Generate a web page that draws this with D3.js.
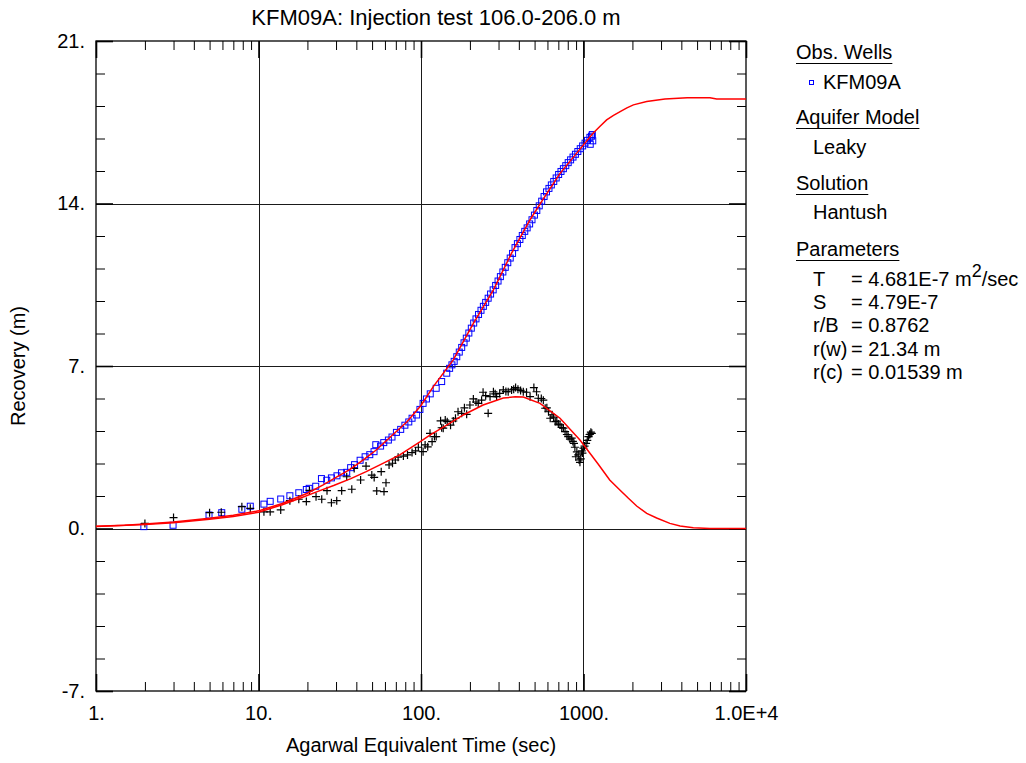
<!DOCTYPE html>
<html>
<head>
<meta charset="utf-8">
<script src="https://cdn.jsdelivr.net/npm/d3@7"></script>
<style>
  body { margin: 0; background: #fff; }
  svg { display: block; font-family: "Liberation Sans", Arial, sans-serif; }
</style>
</head>
<body>
<svg id="chart" width="1026" height="763"></svg>
<script>
// Axis ticks
var timeTicks = [1, 10, 100, 1000, 10000];
var timeTickLabels = ["1.", "10.", "100.", "1000.", "1.0E+4"];
var recoveryTicks = [-7, 0, 7, 14, 21];
var recoveryTickLabels = ["-7.", "0.", "7.", "14.", "21."];

// Observed recovery, KFM09A (blue squares)
var obsTime = [1.97, 2.98, 4.96, 5.94, 7.9, 8.9, 10.8, 11.8, 13.7, 15.6, 17.7, 19.7, 20.5, 22.5,
  24.4, 26.3, 28.1, 30.4, 32.4, 34.9, 36.9, 39, 42.2, 45.3, 48.4, 51.4, 52.7, 56.4, 59, 63, 66.3,
  70.6, 75, 79.6, 84.1, 88.1, 94, 98.5, 103, 108, 114, 124, 134, 144, 150, 155, 160, 166, 172,
  178, 184, 190, 197, 204, 211, 218, 226, 234, 242, 250, 259, 268, 278, 288, 298, 308, 319, 330,
  342, 354, 366, 379, 392, 406, 420, 435, 450, 466, 482, 499, 516, 534, 553, 572, 592, 613, 634,
  656, 679, 703, 727, 752, 778, 805, 833, 862, 892, 923, 955, 988, 1022, 1058, 1095, 1133, 1100,
  1140, 1120];
var obsRecovery = [0.08, 0.14, 0.58, 0.68, 0.83, 0.96, 1.05, 1.17, 1.27, 1.41, 1.54, 1.68, 1.73, 1.82,
  2.15, 2.08, 2.18, 2.27, 2.4, 2.42, 2.62, 2.75, 2.94, 3.09, 3.18, 3.31, 3.61, 3.55, 3.7, 3.81, 3.94,
  4.14, 4.27, 4.45, 4.59, 4.75, 4.89, 5.13, 5.39, 5.58, 5.8, 6.04, 6.33, 6.69, 6.9, 7.05, 7.2, 7.4, 7.6,
  7.8, 8.0, 8.2, 8.42, 8.63, 8.85, 9.03, 9.22, 9.4, 9.57, 9.74, 9.92, 10.1, 10.28, 10.47, 10.66, 10.85,
  11.05, 11.25, 11.45, 11.65, 11.85, 12.1, 12.27, 12.45, 12.62, 12.8, 12.95, 13.12, 13.3, 13.5, 13.7,
  13.9, 14.1, 14.3, 14.5, 14.65, 14.8, 14.95, 15.1, 15.25, 15.38, 15.5, 15.63, 15.76, 15.88, 16.0,
  16.12, 16.24, 16.36, 16.48, 16.6, 16.72, 16.85, 16.97, 16.55, 16.7, 16.9];

// Derivative of recovery (black crosses)
var derivTime = [2.0, 3.0, 5.0, 5.9, 7.9, 8.9, 10.8, 11.8, 13.7, 15.6, 17.7, 19.7, 20.6, 22.6, 24.5,
  26.4, 28.1, 30.3, 32.5, 34.9, 37.5, 38.8, 42.5, 45.9, 49.8, 51.5, 53.4, 56.9, 59.2, 60.9, 63.6, 66.8,
  69.5, 72.3, 77.9, 82.6, 88.1, 92.6, 96.3, 103, 106, 110, 113.6, 117, 121, 124, 132, 134, 137, 141,
  145, 152, 158, 163, 169, 178, 185, 191, 200, 210, 218, 225, 236, 241, 250, 259, 266, 279, 286, 292,
  305, 321, 333, 344, 361, 372, 382, 395, 410, 426, 446, 469, 495, 514, 527, 550, 566, 581, 595, 609,
  624, 640, 655, 670, 685, 700, 717, 735, 752, 770, 790, 805, 825, 846, 860, 874, 885, 897, 910, 928,
  940, 951, 962, 975, 985, 999, 1015, 1037, 1055, 1072, 1090, 1097, 1110, 1125];
var derivValue = [0.22, 0.47, 0.68, 0.7, 0.94, 0.87, 0.72, 0.72, 0.8, 1.2, 1.26, 1.16, 1.64, 1.37, 1.26,
  1.63, 1.11, 1.2, 1.63, 2.23, 1.69, 2.59, 2.09, 2.69, 2.3, 2.2, 1.62, 2.45, 1.59, 1.97, 2.74, 2.81,
  2.95, 3.07, 3.12, 3.17, 3.27, 3.34, 3.5, 3.31, 3.6, 3.52, 4.1, 3.74, 3.96, 3.96, 4.64, 4.34, 4.32, 4.67,
  4.6, 4.45, 4.63, 4.75, 5.03, 4.96, 5.2, 4.92, 5.32, 5.58, 5.45, 5.39, 5.53, 5.87, 5.72, 4.96, 5.68, 5.89,
  5.8, 5.68, 5.82, 5.97, 5.9, 5.89, 5.97, 6.0, 6.07, 6.0, 5.95, 5.89, 5.87, 5.68, 6.07, 5.89, 5.61, 5.6,
  5.53, 5.18, 5.2, 5.03, 4.75, 4.9, 4.8, 4.6, 4.63, 4.5, 4.46, 4.35, 4.32, 4.17, 4.05, 3.96, 3.85, 3.89,
  3.75, 3.67, 3.5, 3.09, 3.3, 3.17, 2.95, 2.85, 3.0, 3.34, 3.25, 3.46, 3.55, 3.67, 3.8, 3.96, 4.05, 4.06,
  4.15, 4.1];

// Hantush leaky solution, recovery (red)
var fitTime = [1, 1.5, 2, 3, 5, 7, 10, 14, 20, 25, 30, 36.6, 45, 53, 65, 82, 100, 119, 158, 210, 279,
  361, 469, 566, 717, 908, 1145, 1260, 1388, 1530, 1681, 1850, 2028, 2449, 3170, 4350, 6000, 6600,
  10000];
var fitRecovery = [0.1, 0.14, 0.19, 0.28, 0.44, 0.57, 0.76, 1.08, 1.52, 1.88, 2.2, 2.55, 3.0, 3.38,
  3.95, 4.6, 5.3, 6.11, 7.26, 8.84, 10.28, 11.86, 13.3, 14.2, 15.3, 16.17, 17.03, 17.32, 17.6, 17.8,
  17.96, 18.12, 18.25, 18.39, 18.5, 18.56, 18.56, 18.5, 18.5];

// Hantush leaky solution, derivative (red)
var fitDerivTime = [1, 2, 3, 5, 7, 10, 14, 18, 23, 29, 37, 46, 60, 74, 99, 114, 144, 182, 241, 321,
  380, 426, 540, 717, 951, 1233, 1450, 1680, 1890, 2124, 2450, 2820, 3400, 3930, 4740, 6000, 10000];
var fitDerivValue = [0.09, 0.17, 0.25, 0.4, 0.52, 0.7, 1.02, 1.3, 1.59, 1.85, 2.15, 2.45, 2.85, 3.17,
  3.74, 4.03, 4.45, 4.89, 5.32, 5.62, 5.67, 5.66, 5.39, 4.75, 3.81, 2.77, 2.09, 1.65, 1.3, 0.97, 0.65,
  0.45, 0.22, 0.11, 0.03, 0, 0];

var paramLabels = ["T", "S", "r/B", "r(w)", "r(c)"];
var paramValues = ["= 4.681E-7 m", "= 4.79E-7", "= 0.8762", "= 21.34 m", "= 0.01539 m"];

///////////////////////////////////////////////////////////////////////////////
// Layout and scales
///////////////////////////////////////////////////////////////////////////////

var svg = d3.select("#chart");
// (window.top is reserved, so no bare "top" here)
var plotL = 96, plotT = 41, plotR = 746, plotB = 691;
var fontSize = 20;

var x = d3.scaleLog().domain([1, 10000]).range([plotL, plotR]);
var y = d3.scaleLinear().domain([-7, 21]).range([plotB, plotT]);

var timeMinor = [];
[1, 10, 100, 1000].forEach(function (d) {
  for (var k = 2; k <= 9; k++) timeMinor.push(d * k);
});
var recoveryMinor = d3.range(0, 20).map(function (i) { return -7 + i * 1.4; })
  .filter(function (v, i) { return i % 5 !== 0; });

// grid
var grid = svg.append("g").attr("stroke", "#1a1a1a").attr("stroke-width", 1);
grid.selectAll("line.v").data([10, 100, 1000]).enter().append("line")
  .attr("x1", function (d) { return Math.round(x(d)) + 0.5; })
  .attr("x2", function (d) { return Math.round(x(d)) + 0.5; })
  .attr("y1", plotT).attr("y2", plotB);
grid.selectAll("line.h").data([0, 7, 14]).enter().append("line")
  .attr("y1", function (d) { return Math.round(y(d)) + 0.5; })
  .attr("y2", function (d) { return Math.round(y(d)) + 0.5; })
  .attr("x1", plotL).attr("x2", plotR);

///////////////////////////////////////////////////////////////////////////////
// Axes (ticks point inward on all four sides)
///////////////////////////////////////////////////////////////////////////////

function styleAxis(g, width) {
  g.select(".domain").remove();
  g.selectAll(".tick line").attr("stroke", "#000").attr("stroke-width", width);
  g.selectAll("text").attr("fill", "#000").attr("font-size", fontSize)
    .attr("font-family", "Liberation Sans, Arial, sans-serif");
}

var xMajorFmt = function (d) { return timeTickLabels[timeTicks.indexOf(d)]; };
var yMajorFmt = function (d) { return recoveryTickLabels[recoveryTicks.indexOf(d)]; };

svg.append("g").attr("transform", "translate(0," + plotB + ")")
  .call(d3.axisBottom(x).tickValues(timeTicks).tickFormat(xMajorFmt).tickSize(-17).tickPadding(15))
  .call(styleAxis, 1.6);
svg.append("g").attr("transform", "translate(0," + plotB + ")")
  .call(d3.axisBottom(x).tickValues(timeMinor).tickFormat("").tickSize(-9))
  .call(styleAxis, 1);
svg.append("g").attr("transform", "translate(0," + plotT + ")")
  .call(d3.axisTop(x).tickValues(timeTicks).tickFormat("").tickSize(-17))
  .call(styleAxis, 1.6);
svg.append("g").attr("transform", "translate(0," + plotT + ")")
  .call(d3.axisTop(x).tickValues(timeMinor).tickFormat("").tickSize(-9))
  .call(styleAxis, 1);

svg.append("g").attr("transform", "translate(" + plotL + ",0)")
  .call(d3.axisLeft(y).tickValues(recoveryTicks).tickFormat(yMajorFmt).tickSize(-17).tickPadding(11))
  .call(styleAxis, 1.6);
svg.append("g").attr("transform", "translate(" + plotL + ",0)")
  .call(d3.axisLeft(y).tickValues(recoveryMinor).tickFormat("").tickSize(-9))
  .call(styleAxis, 1);
svg.append("g").attr("transform", "translate(" + plotR + ",0)")
  .call(d3.axisRight(y).tickValues(recoveryTicks).tickFormat("").tickSize(-17))
  .call(styleAxis, 1.6);
svg.append("g").attr("transform", "translate(" + plotR + ",0)")
  .call(d3.axisRight(y).tickValues(recoveryMinor).tickFormat("").tickSize(-9))
  .call(styleAxis, 1);

svg.append("rect")
  .attr("x", plotL).attr("y", plotT).attr("width", plotR - plotL).attr("height", plotB - plotT)
  .attr("fill", "none").attr("stroke", "#000").attr("stroke-width", 1.3);

///////////////////////////////////////////////////////////////////////////////
// Data marks
///////////////////////////////////////////////////////////////////////////////

svg.append("clipPath").attr("id", "plot-clip").append("rect")
  .attr("x", plotL).attr("y", plotT).attr("width", plotR - plotL).attr("height", plotB - plotT);
var plot = svg.append("g").attr("clip-path", "url(#plot-clip)");

plot.append("g").selectAll("rect").data(d3.range(obsTime.length)).enter().append("rect")
  .attr("x", function (i) { return x(obsTime[i]) - 3; })
  .attr("y", function (i) { return y(obsRecovery[i]) - 3; })
  .attr("width", 6).attr("height", 6)
  .attr("fill", "none").attr("stroke", "#0000ff").attr("stroke-width", 1);

plot.append("g").selectAll("path").data(d3.range(derivTime.length)).enter().append("path")
  .attr("d", function (i) {
    var px = x(derivTime[i]), py = y(derivValue[i]);
    return "M" + (px - 4) + "," + py + "H" + (px + 4) + "M" + px + "," + (py - 4) + "V" + (py + 4);
  })
  .attr("fill", "none").attr("stroke", "#000").attr("stroke-width", 1.2);

var line = d3.line()
  .x(function (d) { return x(d[0]); })
  .y(function (d) { return y(d[1]); });

plot.append("path")
  .datum(d3.zip(fitTime, fitRecovery))
  .attr("d", line).attr("fill", "none").attr("stroke", "#ff0000").attr("stroke-width", 1.5);
plot.append("path")
  .datum(d3.zip(fitDerivTime, fitDerivValue))
  .attr("d", line).attr("fill", "none").attr("stroke", "#ff0000").attr("stroke-width", 1.5);

///////////////////////////////////////////////////////////////////////////////
// Titles
///////////////////////////////////////////////////////////////////////////////

svg.append("text").attr("x", 436).attr("y", 25).attr("text-anchor", "middle")
  .attr("font-size", 22).text("KFM09A: Injection test 106.0-206.0 m");

svg.append("text").attr("x", 421).attr("y", 752).attr("text-anchor", "middle")
  .attr("font-size", fontSize).text("Agarwal Equivalent Time (sec)");

svg.append("text").attr("transform", "translate(25,366) rotate(-90)")
  .attr("text-anchor", "middle").attr("font-size", fontSize).text("Recovery (m)");

///////////////////////////////////////////////////////////////////////////////
// Legend panel
///////////////////////////////////////////////////////////////////////////////

var legend = svg.append("g").attr("font-size", fontSize).attr("fill", "#000");

function heading(text, yb) {
  var t = legend.append("text").attr("x", 796).attr("y", yb).text(text);
  var w = t.node().getComputedTextLength();
  legend.append("line").attr("x1", 796).attr("x2", 796 + w)
    .attr("y1", yb + 4.5).attr("y2", yb + 4.5).attr("stroke", "#000").attr("stroke-width", 1);
}

heading("Obs. Wells", 59);
legend.append("rect").attr("x", 809.5).attr("y", 80.5).attr("width", 4).attr("height", 4)
  .attr("fill", "none").attr("stroke", "#0000ff").attr("stroke-width", 1);
legend.append("text").attr("x", 823).attr("y", 89).text("KFM09A");

heading("Aquifer Model", 124);
legend.append("text").attr("x", 813).attr("y", 154).text("Leaky");

heading("Solution", 190);
legend.append("text").attr("x", 813).attr("y", 219).text("Hantush");

heading("Parameters", 256);
paramLabels.forEach(function (label, i) {
  var yb = 286 + i * 23.2;
  legend.append("text").attr("x", 813).attr("y", yb).text(label);
  var t = legend.append("text").attr("x", 851).attr("y", yb).text(paramValues[i]);
  if (i === 0) {
    t.append("tspan").attr("dy", -9).attr("font-size", 18).text("2");
    t.append("tspan").attr("dy", 9).text("/sec");
  }
});
</script>
</body>
</html>
